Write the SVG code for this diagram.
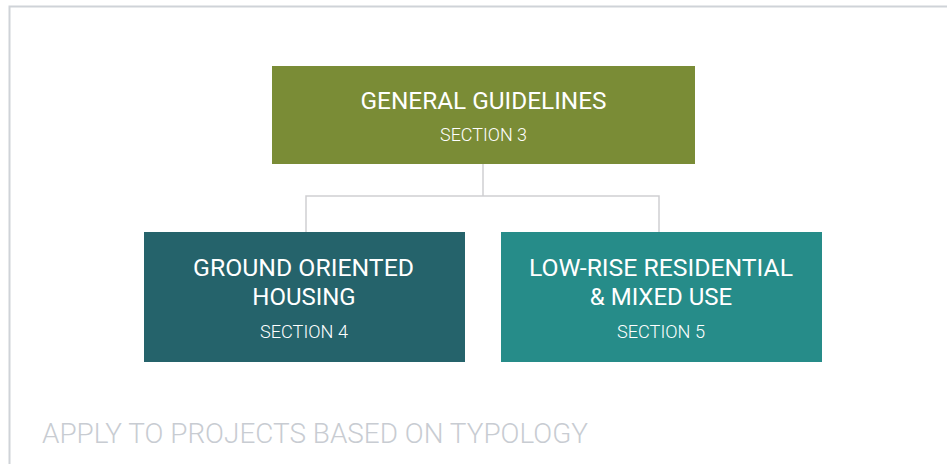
<svg xmlns="http://www.w3.org/2000/svg" width="947" height="464" viewBox="0 0 947 464">
<style>
.t{font-family:Roboto,"Liberation Sans",sans-serif;fill:#ffffff;text-anchor:middle}
.h{font-size:24px}
.s{font-size:17.5px;font-weight:300}
.c{fill:none;stroke:#cfcfd2;stroke-width:1.5}
</style>
<rect width="947" height="464" fill="#ffffff"/>
<path d="M9.5 464 V6.5 H947" fill="none" stroke="#cfd3d8" stroke-width="2"/>
<g id="connectors">
<path class="c" d="M483 164 V196 M306 232 V196 H659 V232"/>
</g>
<g id="general">
<rect x="272" y="66" width="423" height="98" fill="#7a8c36"/>
<text class="t h" x="483.5" y="109" textLength="246" lengthAdjust="spacingAndGlyphs">GENERAL GUIDELINES</text>
<text class="t s" x="483.5" y="141" textLength="87" lengthAdjust="spacingAndGlyphs">SECTION 3</text>
</g>
<g id="ground">
<rect x="144" y="232" width="321" height="130" fill="#25636b"/>
<text class="t h" x="303.5" y="276" textLength="221" lengthAdjust="spacingAndGlyphs">GROUND ORIENTED</text>
<text class="t h" x="304" y="305">HOUSING</text>
<text class="t s" x="304" y="338" textLength="88" lengthAdjust="spacingAndGlyphs">SECTION 4</text>
</g>
<g id="lowrise">
<rect x="501" y="232" width="321" height="130" fill="#268c89"/>
<text class="t h" x="661" y="276" textLength="264" lengthAdjust="spacingAndGlyphs">LOW-RISE RESIDENTIAL</text>
<text class="t h" x="661" y="305">&amp; MIXED USE</text>
<text class="t s" x="661" y="338" textLength="88" lengthAdjust="spacingAndGlyphs">SECTION 5</text>
</g>
<text x="42" y="443" font-family="Roboto,'Liberation Sans',sans-serif" font-weight="300" font-size="28" fill="#c8ccd2" textLength="546" lengthAdjust="spacingAndGlyphs">APPLY TO PROJECTS BASED ON TYPOLOGY</text>
</svg>
